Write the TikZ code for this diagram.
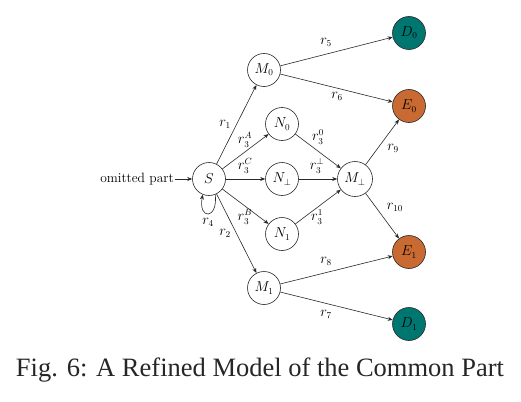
\documentclass[tikz,border=0pt]{standalone}
\usepackage{fontspec}
\newfontfamily\capfont{Liberation Serif}
\usetikzlibrary{arrows.meta}
\definecolor{tealD}{RGB}{0,118,112}
\definecolor{orangeE}{RGB}{200,106,50}
\definecolor{linec}{RGB}{40,40,40}
\begin{document}
\begin{tikzpicture}[x=1pt,y=-1pt,
  font=\fontsize{13.5}{16}\selectfont,
  st/.style={circle,draw=linec,line width=0.6pt,minimum size=33pt,inner sep=0pt},
  dnode/.style={st,fill=tealD},
  enode/.style={st,fill=orangeE},
  arr/.style={draw=linec,line width=0.6pt,-{Stealth[length=5pt,width=4pt]}},
  lab/.style={inner sep=0pt}]
\useasboundingbox (0,0) rectangle (521,401);
\node[st] (S) at (209,179) {$S$};
\node[st] (M0) at (264,70) {$M_0$};
\node[st] (M1) at (264,288) {$M_1$};
\node[st] (N0) at (282,124) {$N_0$};
\node[st] (Np) at (282,179) {$N_\perp$};
\node[st] (N1) at (282,234) {$N_1$};
\node[st,minimum size=35pt] (Mp) at (355,179) {$M_\perp$};
\node[dnode] (D0) at (409,33) {$D_0$};
\node[enode] (E0) at (409,106) {$E_0$};
\node[enode] (E1) at (409,252) {$E_1$};
\node[dnode] (D1) at (409,324) {$D_1$};
\node[inner sep=1pt] (om) at (137,179) {omitted part};

\draw[arr] (om) -- (S);
\draw[arr] (S) -- (M0);
\draw[arr] (S) -- (M1);
\draw[arr] (S) -- (N0);
\draw[arr] (S) -- (Np);
\draw[arr] (S) -- (N1);
\draw[arr] (S.-68) .. controls (218,220) and (198,220) .. (S.-112);
\draw[arr] (N0) -- (Mp);
\draw[arr] (Np) -- (Mp);
\draw[arr] (N1) -- (Mp);
\draw[arr] (M0) -- (D0);
\draw[arr] (M0) -- (E0);
\draw[arr] (M1) -- (E1);
\draw[arr] (M1) -- (D1);
\draw[arr] (Mp) -- (E0);
\draw[arr] (Mp) -- (E1);

\node[lab] (l1) at (225,124) {$r_1$};
\node[lab] (l2) at (225,233) {$r_2$};
\node[lab] (l3A) at (245,140) {$r_3^A$};
\node[lab] (l3C) at (245,166) {$r_3^C$};
\node[lab] (l3B) at (245,217) {$r_3^B$};
\node[lab] (l4) at (208,222) {$r_4$};
\node[lab] (l30) at (318,137) {$r_3^0$};
\node[lab] (l3p) at (317,166) {$r_3^\perp$};
\node[lab] (l31) at (317,217) {$r_3^1$};
\node[lab] (l5) at (326,42) {$r_5$};
\node[lab] (l6) at (337,96) {$r_6$};
\node[lab] (l8) at (326,261) {$r_8$};
\node[lab] (l7) at (326,314) {$r_7$};
\node[lab] (l9) at (393,148) {$r_9$};
\node[lab] (l10) at (395,207) {$r_{10}$};

\node[inner sep=0pt,font=\capfont\fontsize{26.5}{30}\selectfont,text=black!85] (cap) at (260,370) {Fig. 6: A Refined Model of the Common Part};
\end{tikzpicture}
\end{document}
